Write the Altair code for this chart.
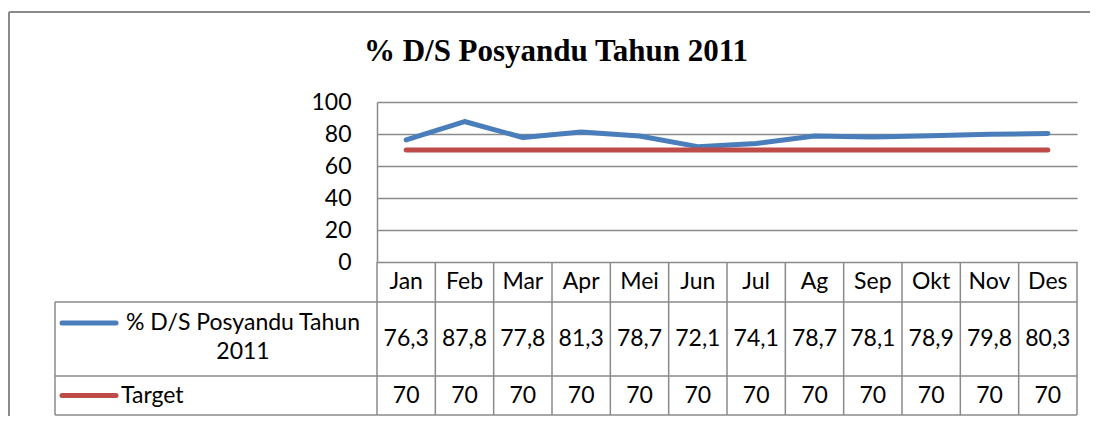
import altair as alt
import pandas as pd

# ---------------- data ----------------
months = ["Jan", "Feb", "Mar", "Apr", "Mei", "Jun", "Jul", "Ag", "Sep", "Okt", "Nov", "Des"]
posyandu = [76.3, 87.8, 77.8, 81.3, 78.7, 72.1, 74.1, 78.7, 78.1, 78.9, 79.8, 80.3]
target = [70, 70, 70, 70, 70, 70, 70, 70, 70, 70, 70, 70]
series_names = ["% D/S Posyandu Tahun 2011", "Target"]
series_labels = ["% D/S Posyandu Tahun\n2011", "Target"]
series_colors = ["#4A7EBB", "#BE4B48"]
y_ticks = [0, 20, 40, 60, 80, 100]
title_text = "% D/S Posyandu Tahun 2011"

# ---------------- layout (pixels, relative to the plot area) ----------------
W, H = 700, 160
GRAY = "#8a8a8a"
FONT = "Lato"
FS = 23
TBL_LEFT = -322
HDR_BOT = 200
ROW1_BOT = 274
ROW2_BOT = 313
BORDER_X = -368
BORDER_Y = -90

xs = alt.Scale(domain=[0, 12], nice=False, zero=False)
ys = alt.Scale(domain=[0, 100], nice=False, zero=False)

line_df = pd.DataFrame({
    "month": months * 2,
    "pos": [i + 0.5 for i in range(len(months))] * 2,
    "value": posyandu + target,
    "series": [series_names[0]] * len(months) + [series_names[1]] * len(months),
})


def fmt(v):
    s = ("%.1f" % v) if v != int(v) else str(int(v))
    return s.replace(".", ",")


cell_df = pd.DataFrame({
    "pos": [i + 0.5 for i in range(len(months))] * 3,
    "text": months + [fmt(v) for v in posyandu] + [fmt(v) for v in target],
    "py": [(H + HDR_BOT) / 2] * 12 + [(HDR_BOT + ROW1_BOT) / 2] * 12 + [(ROW1_BOT + ROW2_BOT) / 2] * 12,
})

bound_df = pd.DataFrame({"b": list(range(len(months) + 1))})

# structural lines of the table and chart frame (pixel layout)
frame_df = pd.DataFrame({
    "x1": [BORDER_X, BORDER_X, TBL_LEFT, TBL_LEFT, TBL_LEFT, TBL_LEFT],
    "x2": [713, BORDER_X, W, W, W, TBL_LEFT],
    "y1": [BORDER_Y, BORDER_Y, HDR_BOT, ROW1_BOT, ROW2_BOT, HDR_BOT],
    "y2": [BORDER_Y, 330, HDR_BOT, ROW1_BOT, ROW2_BOT, ROW2_BOT],
    "w": [2, 2, 1.5, 1.5, 1.5, 1.5],
})

key_df = pd.DataFrame({
    "x1": [-315, -315],
    "x2": [-261, -261],
    "y": [221, (ROW1_BOT + ROW2_BOT) / 2],
    "series": series_names,
})

lab1_df = pd.DataFrame({"x": [-134], "y": [221], "t": [series_labels[0]]})
lab2_df = pd.DataFrame({"x": [-256], "y": [(ROW1_BOT + ROW2_BOT) / 2], "t": [series_labels[1]]})
title_df = pd.DataFrame({"x": [179], "y": [-50], "t": [title_text]})

cscale = alt.Scale(domain=series_names, range=series_colors)

lines = alt.Chart(line_df).mark_line(strokeWidth=5, strokeCap="round", strokeJoin="round").encode(
    x=alt.X("pos:Q", scale=xs, axis=None),
    y=alt.Y("value:Q", scale=ys, axis=alt.Axis(
        values=y_ticks, title=None, grid=True, gridColor=GRAY, gridWidth=1.5,
        domain=True, domainColor=GRAY, domainWidth=1.5, ticks=False,
        labelPadding=26, labelFont=FONT, labelFontSize=FS, labelColor="black")),
    color=alt.Color("series:N", scale=cscale, legend=None),
)

frame = alt.Chart(frame_df).mark_rule(color=GRAY).encode(
    x=alt.X("x1:Q", scale=None), x2="x2:Q",
    y=alt.Y("y1:Q", scale=None), y2="y2:Q",
    strokeWidth=alt.StrokeWidth("w:Q", scale=None),
)

col_bounds = alt.Chart(bound_df).mark_rule(color=GRAY, strokeWidth=1.5).encode(
    x=alt.X("b:Q", scale=xs, axis=None), y=alt.value(H), y2=alt.value(ROW2_BOT))

cells = alt.Chart(cell_df).mark_text(font=FONT, fontSize=FS, baseline="middle", color="black").encode(
    x=alt.X("pos:Q", scale=xs, axis=None), y=alt.Y("py:Q", scale=None), text="text:N")

keys = alt.Chart(key_df).mark_rule(strokeWidth=5, strokeCap="round").encode(
    x=alt.X("x1:Q", scale=None), x2="x2:Q", y=alt.Y("y:Q", scale=None),
    color=alt.Color("series:N", scale=cscale, legend=None))

lab1 = alt.Chart(lab1_df).mark_text(font=FONT, fontSize=FS, baseline="middle", align="center",
                                    lineBreak="\n", lineHeight=29, color="black").encode(
    x=alt.X("x:Q", scale=None), y=alt.Y("y:Q", scale=None), text="t:N")
lab2 = alt.Chart(lab2_df).mark_text(font=FONT, fontSize=FS, baseline="middle", align="left",
                                    color="black").encode(
    x=alt.X("x:Q", scale=None), y=alt.Y("y:Q", scale=None), text="t:N")

title = alt.Chart(title_df).mark_text(font="Liberation Serif", fontSize=31, fontWeight="bold",
                                      baseline="middle", align="center", color="black").encode(
    x=alt.X("x:Q", scale=None), y=alt.Y("y:Q", scale=None), text="t:N")

chart = alt.layer(
    frame, col_bounds, title, cells, lab1, lab2, keys, lines,
).resolve_scale(x="independent", y="independent").properties(
    width=W, height=H,
    padding={"left": 369, "top": 94, "right": 13, "bottom": 154},
    autosize=alt.AutoSizeParams(type="none"),
    background="white",
).configure_view(stroke=None)

chart.save("out.html", embed_options={"renderer": "svg", "actions": False})
